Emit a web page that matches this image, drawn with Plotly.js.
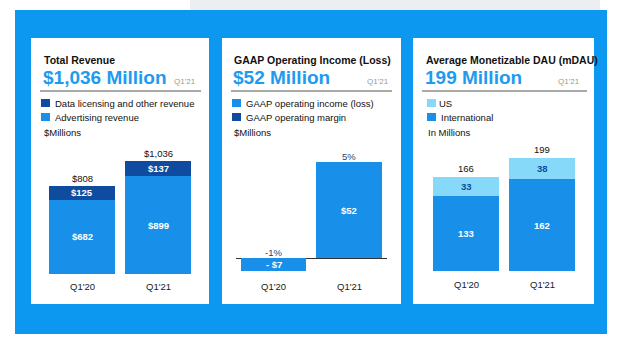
<!DOCTYPE html>
<html>
<head>
<meta charset="utf-8">
<script src="https://cdn.plot.ly/plotly-3.0.1.min.js"></script>
<style>html,body{margin:0;padding:0;background:#fff;}#chart{width:620px;height:352px;}</style>
</head>
<body>
<div id="chart"></div>
<script>
// ---- data ----
const categories = ["Q1'20", "Q1'21"];
const advertisingRevenue = [682, 899];
const dataLicensingRevenue = [125, 137];
const revenueTotals = [808, 1036];
const gaapOperatingIncome = [-7, 52];
const gaapOperatingMargin = [-1, 5];
const internationalDau = [133, 162];
const usDau = [33, 38];
const dauTotals = [166, 199];

const panelTitles = ["Total Revenue", "GAAP Operating Income (Loss)", "Average Monetizable DAU (mDAU)"];
const panelHeadlines = ["$1,036 Million", "$52 Million", "199 Million"];
const panelPeriod = "Q1'21";
const legend1 = ["Data licensing and other revenue", "Advertising revenue"];
const legend2 = ["GAAP operating income (loss)", "GAAP operating margin"];
const legend3 = ["US", "International"];
const unitLabels = ["$Millions", "$Millions", "In Millions"];

// ---- styles ----
const W = 620, H = 352;
const FONT = "Liberation Sans, Arial, sans-serif";
const FRAME = "#0c97f1";
const BLUE = "#1890ea";
const DARK = "#0f4c9f";
const CYAN = "#86d9f9";
const HEAD = "#1d9bf0";
const NAVY = "#2a3f6f";
const px = x => x / W;
const py = y => 1 - y / H;
const money = v => (v < 0 ? "- $" : "$") + Math.abs(v).toLocaleString("en-US");

function bar(x, y, color, xa, ya) {
  return {type: "bar", x: x, y: y, width: 0.868, marker: {color: color, line: {width: 0}},
          xaxis: xa, yaxis: ya, hoverinfo: "skip", showlegend: false};
}

const traces = [
  bar(categories, advertisingRevenue, BLUE, "x", "y"),
  bar(categories, dataLicensingRevenue, DARK, "x", "y"),
  Object.assign(bar(categories, gaapOperatingIncome, BLUE, "x2", "y2"), {width: 0.874}),
  bar(categories, internationalDau, BLUE, "x3", "y3"),
  bar(categories, usDau, CYAN, "x3", "y3")
];

const shapes = [
  {type: "rect", xref: "paper", yref: "paper", x0: px(190), x1: px(600), y0: py(0), y1: py(10), fillcolor: "#eceef1", line: {width: 0}, layer: "below"},
  {type: "rect", xref: "paper", yref: "paper", x0: px(15), x1: px(607), y0: py(10), y1: py(334), fillcolor: FRAME, line: {width: 0}, layer: "below"}
];
const panels = [[31, 209], [222, 401], [413, 594]];
panels.forEach(p => shapes.push({type: "rect", xref: "paper", yref: "paper", x0: px(p[0]), x1: px(p[1]), y0: py(38), y1: py(304), fillcolor: "#ffffff", line: {width: 0}, layer: "below"}));

const annotations = [];
function txt(x, y, text, opts) {
  annotations.push(Object.assign({xref: "paper", yref: "paper", x: px(x), y: py(y), text: text, showarrow: false,
    xanchor: "left", yanchor: "middle", font: {family: FONT, size: 9.5, color: "#111"}}, opts || {}));
}

// headers
const hdr = [
  {tx: 42, lineX: [40, 201], qx: 198, legX: 41, legTx: [53, 53], unitX: 42, leg: legend1, cols: [DARK, BLUE]},
  {tx: 232, lineX: [231, 392], qx: 391, legX: 232, legTx: [244, 244], unitX: 232, leg: legend2, cols: [BLUE, DARK]},
  {tx: 424, lineX: [422, 587], qx: 582, legX: 427, legTx: [437, 439], unitX: 426, leg: legend3, cols: [CYAN, BLUE]}
];
hdr.forEach((h, i) => {
  txt(h.tx, 59.5, "<b>" + panelTitles[i] + "</b>", {font: {family: FONT, size: 10.5, color: "#111"}});
  txt(h.tx - 1, 78, "<b>" + panelHeadlines[i] + "</b>", {font: {family: FONT, size: 19, color: HEAD}});
  txt(h.qx, 81, panelPeriod, {xanchor: "right", font: {family: FONT, size: 8, color: "#9a9a9a"}});
  shapes.push({type: "line", xref: "paper", yref: "paper", x0: px(h.lineX[0]), x1: px(h.lineX[1]), y0: py(91), y1: py(91), line: {color: "#8c8c8c", width: 1.5}});
  [103, 117].forEach((yy, k) => {
    shapes.push({type: "rect", xref: "paper", yref: "paper", x0: px(h.legX), x1: px(h.legX + 9), y0: py(yy - 4), y1: py(yy + 4), fillcolor: h.cols[k], line: {width: 0}});
    txt(h.legTx[k], yy, h.leg[k]);
  });
  txt(h.unitX, 132, unitLabels[i]);
});

// category labels
categories.forEach((c, i) => {
  annotations.push({xref: "x", yref: "paper", x: c, y: py(286), text: c, showarrow: false, xanchor: "center", yanchor: "middle", font: {family: FONT, size: 9.5, color: "#1a1a1a"}});
  annotations.push({xref: "x2", yref: "paper", x: c, y: py(286), text: c, showarrow: false, xanchor: "center", yanchor: "middle", font: {family: FONT, size: 9.5, color: "#1a1a1a"}});
  annotations.push({xref: "x3", yref: "paper", x: c, y: py(284), text: c, showarrow: false, xanchor: "center", yanchor: "middle", font: {family: FONT, size: 9.5, color: "#1a1a1a"}});
});

function dataLabel(xa, ya, x, y, text, color, bold, shift) {
  annotations.push({xref: xa, yref: ya, x: x, y: y, text: bold ? "<b>" + text + "</b>" : text, showarrow: false,
    xanchor: "center", yanchor: "middle", yshift: shift || 0, font: {family: FONT, size: 9.5, color: color}});
}
categories.forEach((c, i) => {
  // panel 1
  dataLabel("x", "y", c, advertisingRevenue[i] / 2, money(advertisingRevenue[i]), "#fff", true);
  dataLabel("x", "y", c, advertisingRevenue[i] + dataLicensingRevenue[i] / 2, money(dataLicensingRevenue[i]), "#fff", true);
  dataLabel("x", "y", c, advertisingRevenue[i] + dataLicensingRevenue[i], money(revenueTotals[i]), "#111", false, 8);
  // panel 2
  dataLabel("x2", "y2", c, gaapOperatingIncome[i] / 2, money(gaapOperatingIncome[i]), "#fff", true);
  dataLabel("x2", "y2", c, Math.max(gaapOperatingIncome[i], 0), gaapOperatingMargin[i] + "%", NAVY, false, 6);
  // panel 3
  dataLabel("x3", "y3", c, internationalDau[i] / 2, String(internationalDau[i]), "#fff", true);
  dataLabel("x3", "y3", c, internationalDau[i] + usDau[i] / 2, String(usDau[i]), DARK, true);
  dataLabel("x3", "y3", c, internationalDau[i] + usDau[i], String(dauTotals[i]), "#111", false, 8);
});

function xax(d0, d1) {
  return {domain: [px(d0), px(d1)], type: "category", range: [-0.5, 1.5], showticklabels: false, showgrid: false, zeroline: false, showline: false, ticks: "", fixedrange: true};
}
function yax(yb, yt, r0, r1, zl) {
  return {domain: [py(yb), py(yt)], range: [r0, r1], showticklabels: false, showgrid: false, zeroline: !!zl, zerolinecolor: "#333", zerolinewidth: 1, showline: false, ticks: "", fixedrange: true};
}

const layout = {
  width: W, height: H, margin: {l: 0, r: 0, t: 0, b: 0, pad: 0},
  paper_bgcolor: "#ffffff", plot_bgcolor: "rgba(0,0,0,0)",
  barmode: "stack", bargap: 0, showlegend: false,
  font: {family: FONT},
  xaxis: xax(44, 196), yaxis: yax(274, 150, 0, 124 / 0.109),
  xaxis2: xax(235.75, 386.75), yaxis2: yax(280, 150, -22 / 1.846, 108 / 1.846, true),
  xaxis3: xax(428, 580), yaxis3: yax(271, 150, 0, 121 / 0.567),
  shapes: shapes, annotations: annotations
};

Plotly.newPlot("chart", traces, layout, {displayModeBar: false, staticPlot: true});
</script>
</body>
</html>
